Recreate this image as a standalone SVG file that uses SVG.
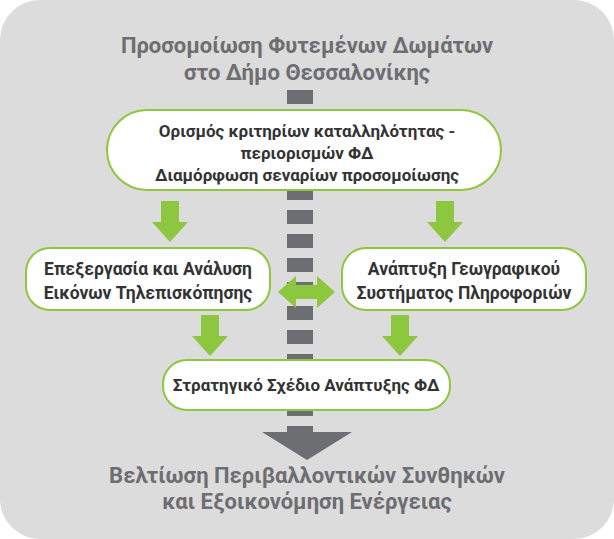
<svg xmlns="http://www.w3.org/2000/svg" width="614" height="539" viewBox="0 0 614 539">
<defs><style>
.t{font-family:Roboto,"Liberation Sans",sans-serif;font-weight:bold;fill:#6d6e71;font-size:22px;text-anchor:middle}
.n{font-family:Roboto,"Liberation Sans",sans-serif;font-weight:bold;fill:#333;font-size:17px;text-anchor:middle}
.m{font-size:17.5px}
.b{fill:#fff;stroke:#8dc63f;stroke-width:2}
.g{fill:#8dc63f}
</style></defs>
<rect x="0" y="0" width="614" height="539" rx="40" fill="#dcdcdc"/>
<text class="t" x="307" y="53">Προσομοίωση Φυτεμένων Δωμάτων</text>
<text class="t" x="307" y="80">στο Δήμο Θεσσαλονίκης</text>
<g id="spine">
<line x1="300" y1="90" x2="300" y2="432" stroke="#6d6e71" stroke-width="26" stroke-dasharray="14 10"/>
<polygon points="262,432 352,432 307,460" fill="#6d6e71"/>
</g>
<text class="t" x="307" y="483">Βελτίωση Περιβαλλοντικών Συνθηκών</text>
<text class="t" x="307" y="509">και Εξοικονόμηση Ενέργειας</text>
<g id="connectors">
<polygon class="g" points="161,201 179,201 179,222 188,222 170,242 152,222 161,222"/>
<polygon class="g" points="436,201 454,201 454,222 463,222 445,242 427,222 436,222"/>
<polygon class="g" points="201,315 219,315 219,336 228,336 210,356 192,336 201,336"/>
<polygon class="g" points="391,315 409,315 409,336 418,336 400,356 382,336 391,336"/>
<polygon class="g" points="278,292 296,276 296,285 317,285 317,276 335,292 317,308 317,299 296,299 296,308"/>
</g>
<g id="n1"><rect class="b" x="107" y="110" width="394" height="80" rx="40"/>
<text class="n" x="307" y="137">Ορισμός κριτηρίων καταλληλότητας -</text>
<text class="n" x="307" y="159">περιορισμών ΦΔ</text>
<text class="n" x="307" y="181">Διαμόρφωση σεναρίων προσομοίωσης</text></g>
<g id="n2"><rect class="b" x="26" y="248" width="244" height="62" rx="24"/>
<text class="n m" x="148" y="275">Επεξεργασία και Ανάλυση</text>
<text class="n m" x="148" y="299">Εικόνων Τηλεπισκόπησης</text></g>
<g id="n3"><rect class="b" x="342" y="248" width="244" height="62" rx="24"/>
<text class="n m" x="464" y="275">Ανάπτυξη Γεωγραφικού</text>
<text class="n m" x="464" y="299">Συστήματος Πληροφοριών</text></g>
<g id="n4"><rect class="b" x="163" y="360" width="287" height="50" rx="24"/>
<text class="n" x="306" y="391">Στρατηγικό Σχέδιο Ανάπτυξης ΦΔ</text></g>
</svg>
